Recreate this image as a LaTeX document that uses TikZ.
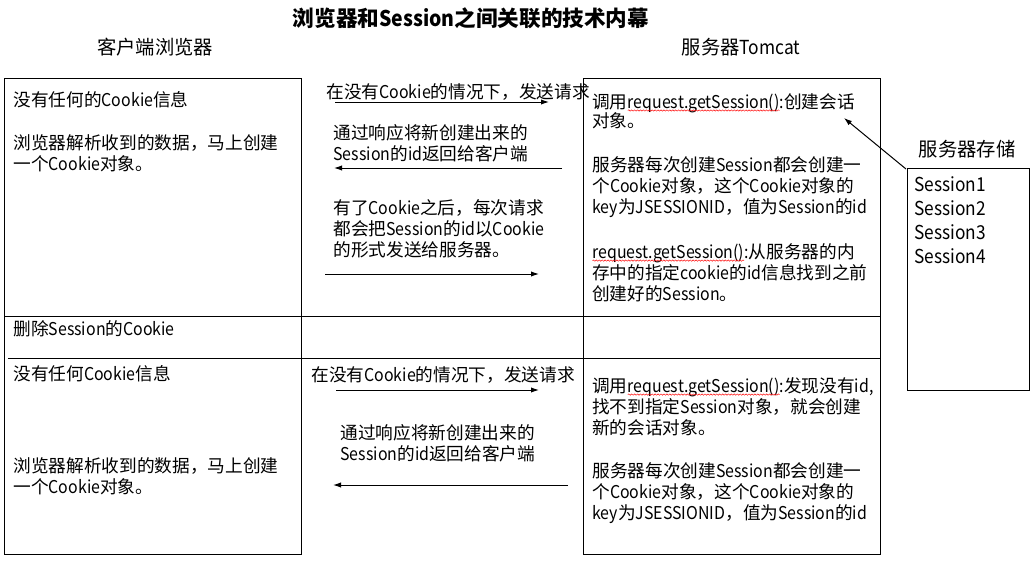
\documentclass[tikz,border=0pt]{standalone}
\usepackage{fontspec}
\setmainfont{Noto Sans CJK SC}[FakeStretch=0.9]
\newfontfamily\cjkfont{Noto Sans CJK SC}
\usetikzlibrary{arrows.meta,decorations.pathmorphing}

% Latin letters narrower than the Chinese ones
\XeTeXinterchartokenstate=1
\newXeTeXintercharclass\cjkclass
\newcount\cjkchar
\newcommand\cjkrange[2]{\cjkchar=#1
  \loop\XeTeXcharclass\cjkchar=\cjkclass
  \ifnum\cjkchar<#2 \advance\cjkchar by 1 \repeat}
\cjkrange{"3000}{"303F}
\cjkrange{"4E00}{"9FFF}
\cjkrange{"FF00}{"FFEF}
\XeTeXinterchartoks 0 \cjkclass = {\cjkfont}
\XeTeXinterchartoks 4095 \cjkclass = {\cjkfont}
\XeTeXinterchartoks \cjkclass 0 = {\rmfamily}

% red wavy underline
\newcommand\spellwave[1]{\tikz[baseline=(w.base), x=1pt, y=1pt]{%
  \node [inner sep=0pt, outer sep=0pt, anchor=base, font=\rmfamily] (w) {#1};
  \draw [red, line width=0.35pt, decorate, decoration={snake, amplitude=0.5pt, segment length=2.2pt}]
    ([yshift=-1.8pt]w.base west) -- ([yshift=-1.8pt]w.base east);}\rmfamily}

\tikzset{
  txt/.style={inner sep=0pt, align=left, anchor=north west, font=\fontsize{13.25pt}{15.75pt}\selectfont},
  line/.style={anchor=west, inner sep=0pt, font=\fontsize{13.25pt}{15.75pt}\selectfont},
  head/.style={inner sep=0pt, font=\fontsize{14.5pt}{17pt}\selectfont}
}

\begin{document}
\begin{tikzpicture}[x=0.75pt, y=-0.75pt, line width=0.75pt, >={Latex[length=6pt,width=4pt]}]

  \useasboundingbox (0,0) rectangle (1036,564);

  % titles
  \node [inner sep=0pt, font=\fontsize{16.2pt}{19pt}\selectfont\bfseries] (title) at (471,18) {浏览器和Session之间关联的技术内幕};
  \node [head] (client) at (155,47) {客户端浏览器};
  \node [head] (server) at (741,47) {服务器Tomcat};
  \node [head] (storage) at (967,149) {服务器存储};

  % table
  \draw (4,316) -- (4,78) -- (301,78) -- (301,316);
  \draw (583,316) -- (583,78) -- (880,78) -- (880,316);
  \draw (4,316) -- (880,316);
  \draw (8,358) -- (880,358);
  \draw (301,316) -- (301,358);
  \draw (583,316) -- (583,358);
  \draw (880,316) -- (880,358);
  \draw (4,316) -- (4,554) -- (301,554) -- (301,358);
  \draw (583,358) -- (583,554) -- (880,554) -- (880,358);

  % client side
  \node [line] (c1) at (13,100) {没有任何的Cookie信息};
  \node [txt] (c2) at (13,134) {浏览器解析收到的数据，马上创建\\一个Cookie对象。};
  \node [line] (c3) at (13,329) {删除Session的Cookie};
  \node [line] (c4) at (13,374) {没有任何Cookie信息};
  \node [txt] (c5) at (13,457) {浏览器解析收到的数据，马上创建\\一个Cookie对象。};

  % server side
  \node [txt] (s1) at (592,93) {调用\spellwave{request.getSession()}:创建会话\\[-1pt]对象。};
  \node [txt] (s2) at (592,156) {服务器每次创建Session都会创建一\\个Cookie对象，这个Cookie对象的\\key为JSESSIONID，值为Session的id};
  \node [txt] (s3) at (592,243) {\spellwave{request.getSession()}:从服务器的内\\存中的指定cookie的id信息找到之前\\创建好的Session。};
  \node [txt] (s4) at (592,377) {调用\spellwave{request.getSession()}:发现没有id,\\找不到指定Session对象，就会创建\\新的会话对象。};
  \node [txt] (s5) at (592,462) {服务器每次创建Session都会创建一\\个Cookie对象，这个Cookie对象的\\key为JSESSIONID，值为Session的id};

  % storage
  \draw (907,168) rectangle (1029,390);
  \node [inner sep=0pt, align=left, anchor=north west, font=\fontsize{14.4pt}{18pt}\selectfont] (sess) at (914,176) {Session1\\Session2\\Session3\\Session4};

  % messages, first round
  \node [line] (m1) at (326,92) {在没有Cookie的情况下，发送请求};
  \node [txt] (m2) at (333,124) {通过响应将新创建出来的\\Session的id返回给客户端};
  \node [txt] (m3) at (333,199) {有了Cookie之后，每次请求\\都会把Session的id以Cookie\\的形式发送给服务器。};

  \coordinate (A1) at (335,102);
  \coordinate (B1) at (549,102);
  \coordinate (A2) at (562,168);
  \coordinate (B2) at (334,168);
  \coordinate (A3) at (325,274);
  \coordinate (B3) at (539,274);

  \draw [->] (A1) -- (B1);
  \draw [->] (A2) -- (B2);
  \draw [->] (A3) -- (B3);

  % messages, after the cookie is deleted
  \node [line] (m4) at (311,375) {在没有Cookie的情况下，发送请求};
  \node [txt] (m5) at (340,424) {通过响应将新创建出来的\\Session的id返回给客户端};

  \coordinate (A4) at (336,390);
  \coordinate (B4) at (539,390);
  \coordinate (A5) at (568,485);
  \coordinate (B5) at (333,485);

  \draw [->] (A4) -- (B4);
  \draw [->] (A5) -- (B5);

  % lookup in the storage
  \coordinate (ST) at (906,169);
  \coordinate (SS) at (844,118);
  \draw [->] (ST) -- (SS);

\end{tikzpicture}
\end{document}
